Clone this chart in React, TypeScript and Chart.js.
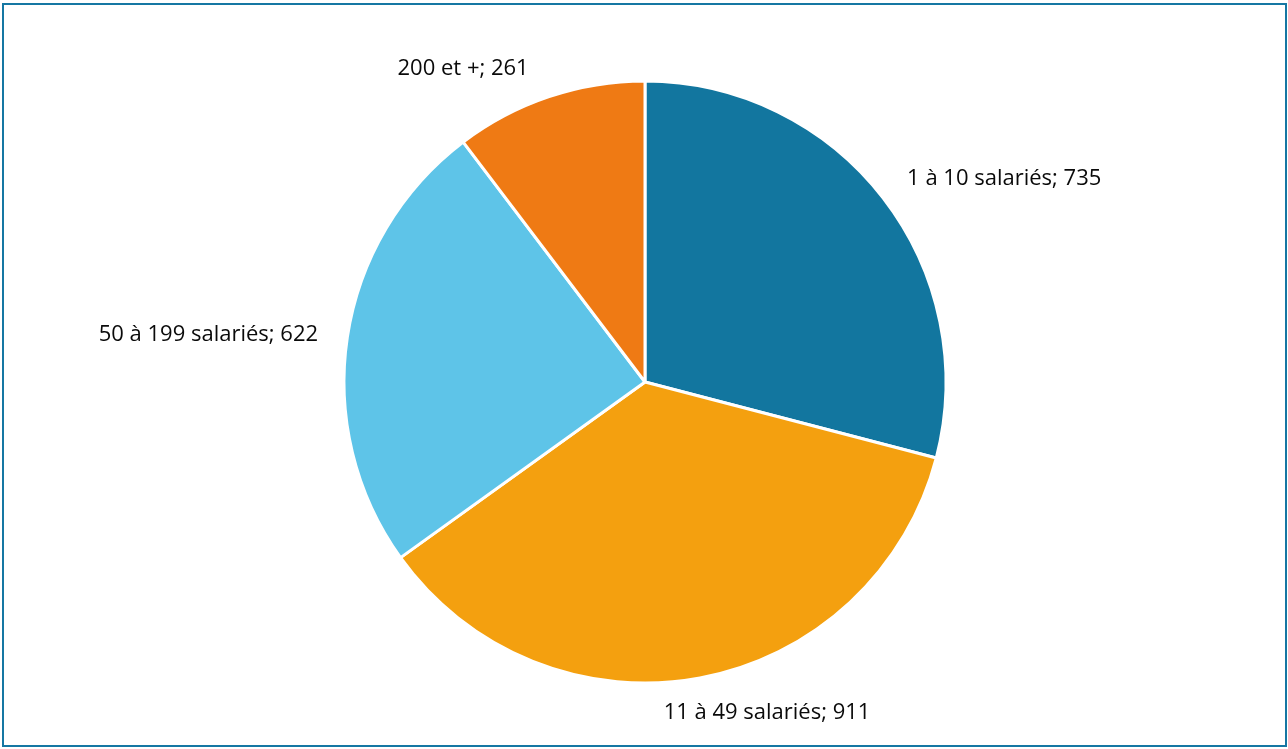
import React, { useEffect, useRef } from "react";
import { Chart, registerables } from "chart.js";

Chart.register(...registerables);

const categories = ["1 à 10 salariés", "11 à 49 salariés", "50 à 199 salariés", "200 et +"];
const values = [735, 911, 622, 261];
const sliceColors = ["#12769f", "#f4a00f", "#5ec4e8", "#ef7a14"];
// label offset (text centre relative to slice mid-angle point on the rim)
const labelOffsets = [
  [121, -19],
  [67, 35],
  [-139, -2],
  [-86, -28],
];

const labelPlugin = {
  id: "sliceLabels",
  afterDatasetsDraw(chart: any) {
    const ctx = chart.ctx;
    const meta = chart.getDatasetMeta(0);
    ctx.save();
    ctx.font = "500 22px 'Open Sans'";
    ctx.fillStyle = "#0a0a0a";
    ctx.textAlign = "center";
    ctx.textBaseline = "middle";
    meta.data.forEach((arc: any, i: number) => {
      const p = arc.getProps(["x", "y", "startAngle", "endAngle", "outerRadius"], true);
      const mid = (p.startAngle + p.endAngle) / 2;
      const px = p.x + Math.cos(mid) * p.outerRadius;
      const py = p.y + Math.sin(mid) * p.outerRadius;
      const text = `${categories[i]}; ${values[i]}`;
      ctx.fillText(text, px + labelOffsets[i][0], py + labelOffsets[i][1]);
    });
    ctx.restore();
  },
};

export default function App() {
  const ref = useRef<HTMLCanvasElement | null>(null);
  useEffect(() => {
    document.body.style.margin = "0";
    const chart = new Chart(ref.current!, {
      type: "pie",
      data: {
        labels: categories,
        datasets: [
          {
            data: values,
            backgroundColor: sliceColors,
            borderColor: "#ffffff",
            borderWidth: 3,
          },
        ],
      },
      options: {
        animation: false,
        responsive: false,
        radius: 301,
        layout: { padding: { left: 20, right: 18, top: 40, bottom: 25 } },
        plugins: { legend: { display: false }, tooltip: { enabled: false } },
      } as any,
      plugins: [labelPlugin],
    });
    return () => chart.destroy();
  }, []);
  return (
    <div style={{ position: "relative", width: 1288, height: 749, background: "#fff" }}>
      <canvas ref={ref} width={1288} height={749} style={{ position: "absolute", left: 0, top: 0 }} />
      <div
        style={{
          position: "absolute",
          left: 2,
          top: 3,
          width: 1285,
          height: 744,
          boxSizing: "border-box",
          border: "2px solid #1577a3",
          pointerEvents: "none",
        }}
      />
    </div>
  );
}
